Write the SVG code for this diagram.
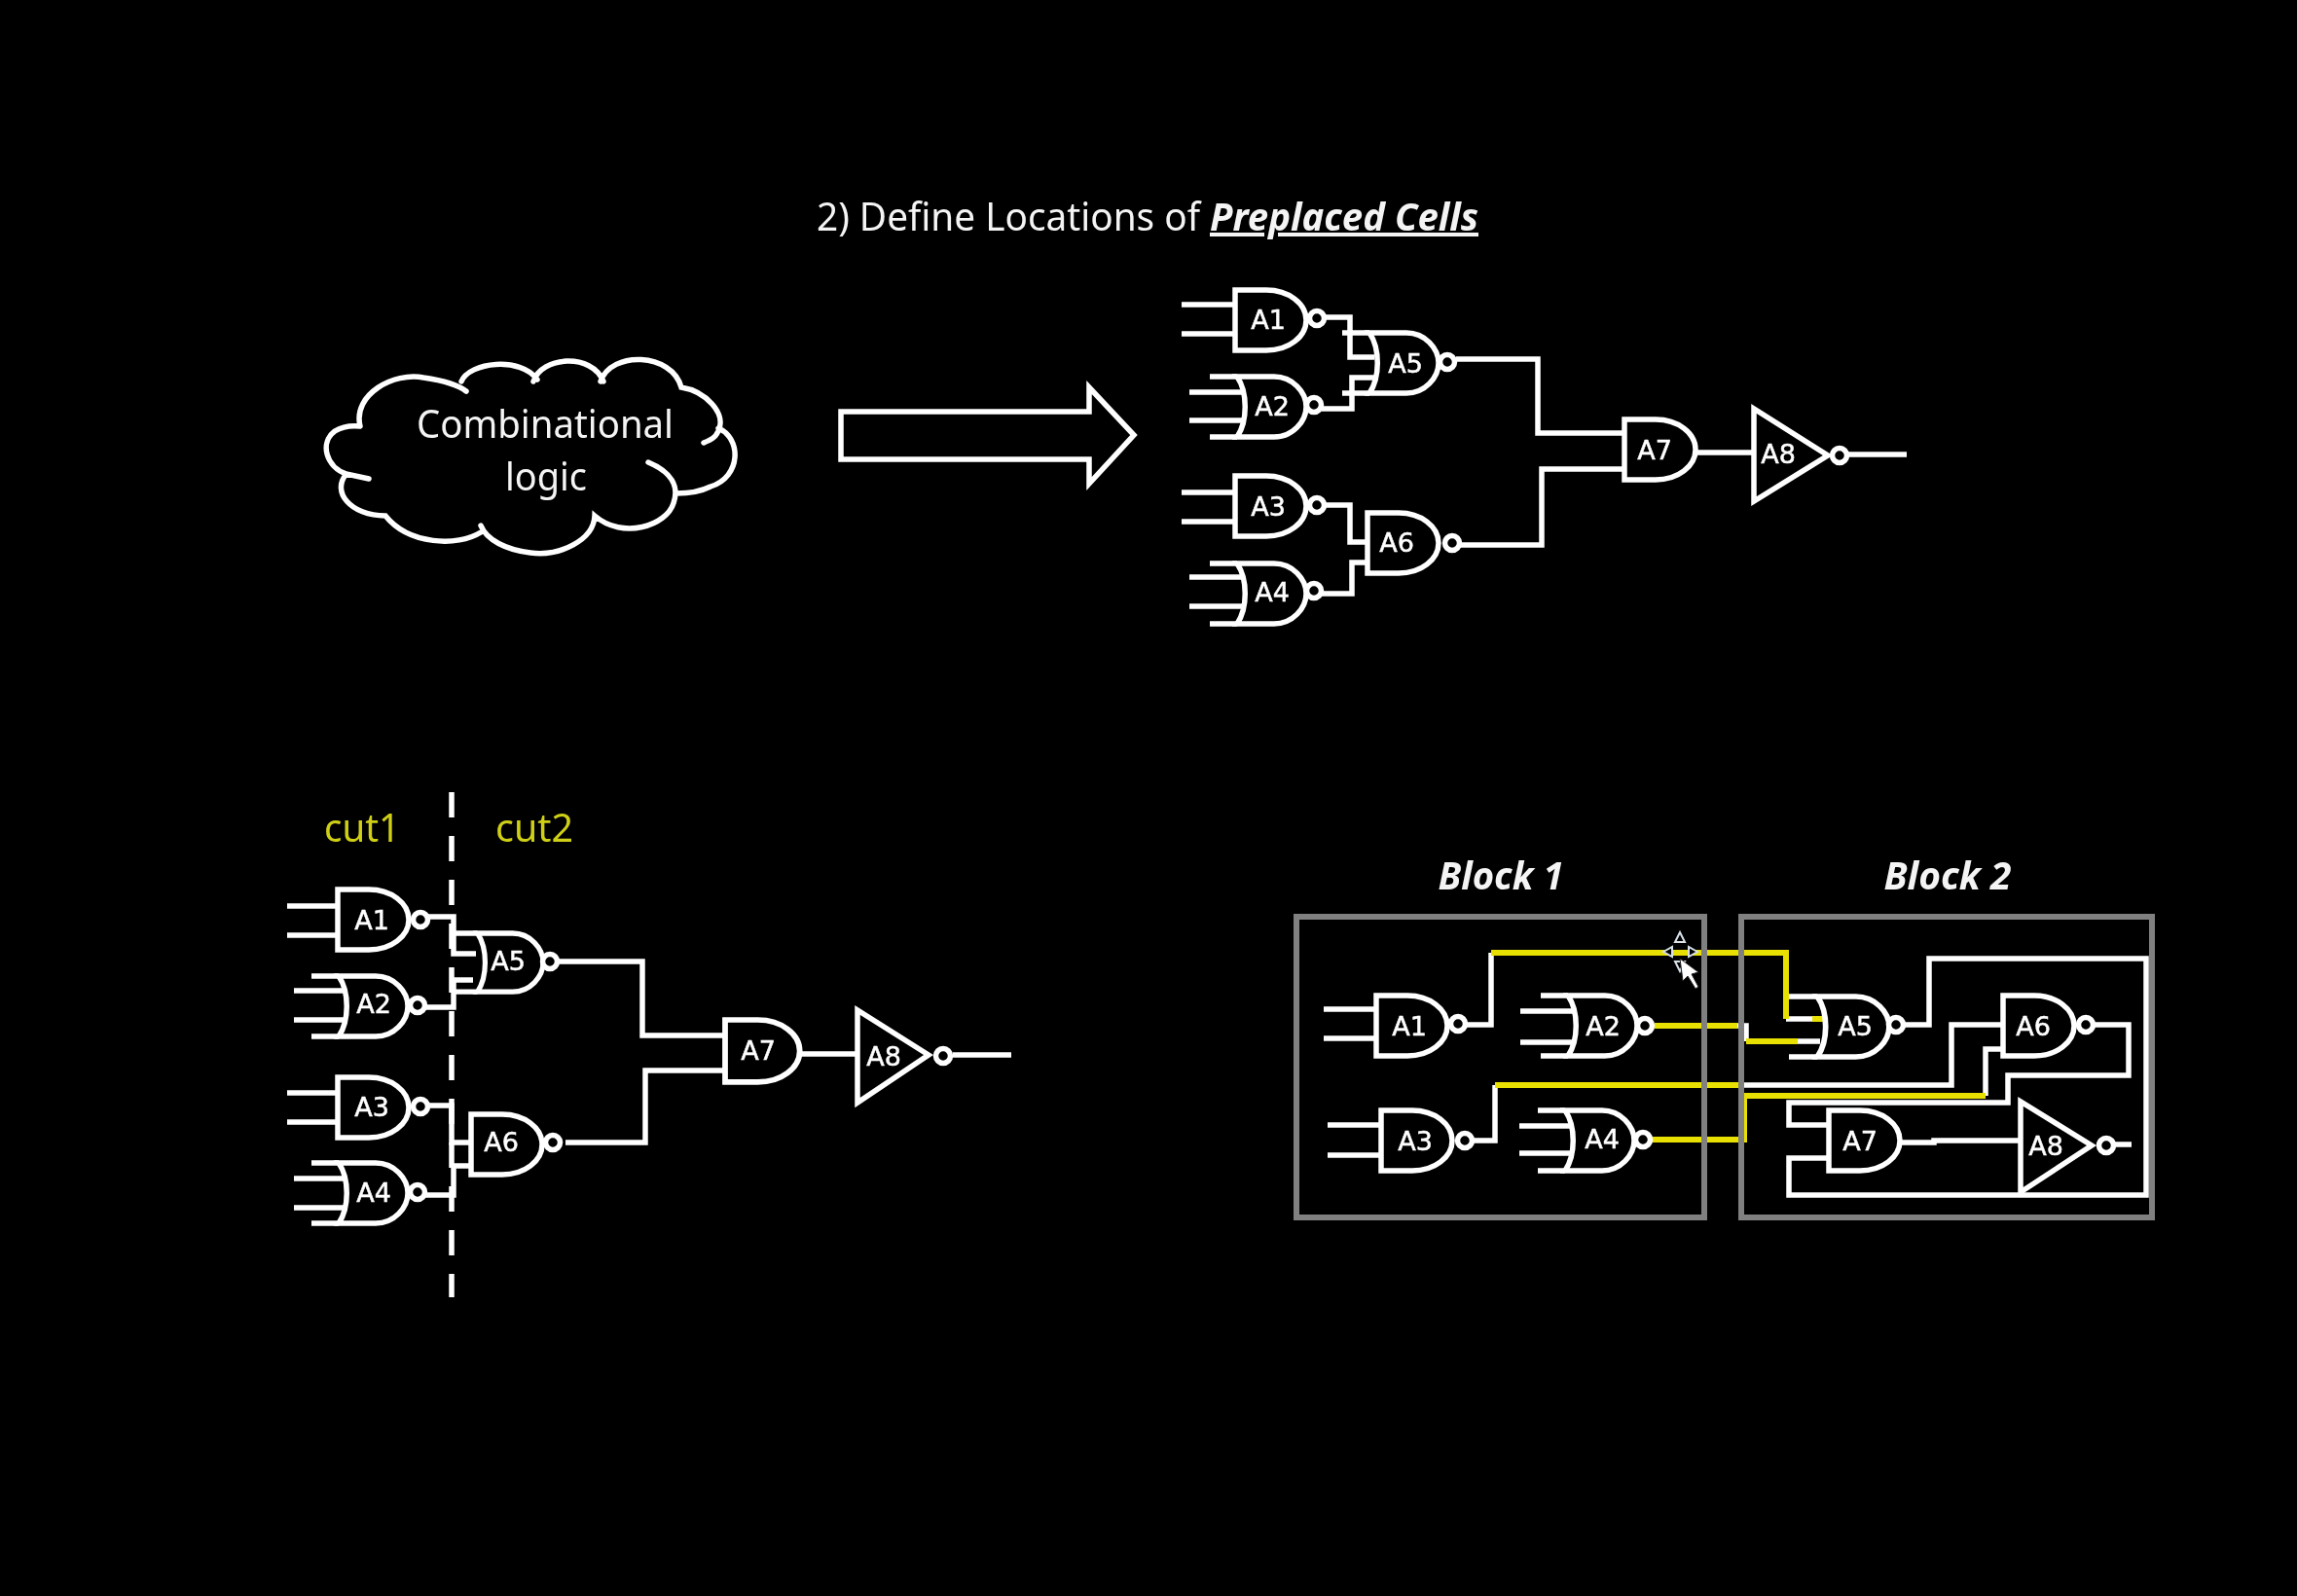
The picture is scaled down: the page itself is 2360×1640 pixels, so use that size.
<svg xmlns="http://www.w3.org/2000/svg" xmlns:xlink="http://www.w3.org/1999/xlink" width="2360" height="1640" viewBox="0 0 2360 1640">
<style>
.w{fill:none;stroke:#fff;stroke-width:5.5;stroke-linejoin:miter}
.y{fill:none;stroke:#e8e000;stroke-width:6}
.b{fill:#000;stroke:#fff;stroke-width:5.5}
.box{fill:none;stroke:#808080;stroke-width:6}
.l{font-family:"DejaVu Sans",sans-serif;font-size:27px;fill:#fff;stroke:#fff;stroke-width:.5;text-anchor:middle}
.t{font-family:"Noto Sans","Open Sans",sans-serif;font-size:40px;fill:#f4f4f4;text-anchor:middle}
.cut{fill:#cfcf18}
.bi{font-weight:700;font-style:italic}
</style>
<defs>
<filter id="soft" filterUnits="userSpaceOnUse" x="0" y="0" width="2360" height="1640"><feGaussianBlur stdDeviation="0.7"/></filter>
<path id="and" class="b" d="M0 0H32C55 0 73 14 73 31C73 48 55 62 32 62H0Z"/>
<g id="nor"><path class="b" d="M28 0H66C85 0 99 16 99 31C99 46 85 62 66 62H28C39 46 39 16 28 0Z"/><path class="w" d="M0 0H28M0 62H28"/></g>
</defs>
<rect width="2360" height="1640" fill="#000"/>
<g filter="url(#soft)">
<g id="title">
<text class="t" x="1036" y="237" textLength="394" lengthAdjust="spacingAndGlyphs">2) Define Locations of</text>
<text class="t bi" x="1381" y="237" textLength="276" lengthAdjust="spacingAndGlyphs" text-decoration="underline">Preplaced Cells</text>
</g>
<g id="cloud">
<path class="w" stroke-linecap="round" d="M370 438C362 405 405 382 435 388C455 391 470 395 479 402M474 392C482 372 535 366 552 390M548 392C556 366 608 362 620 392M617 392C628 360 690 362 700 398C725 402 747 425 738 443C735 450 730 452 723 455M738 440C762 450 762 490 730 500C720 505 708 507 695 507M666 475C690 485 698 500 692 517C685 540 640 555 611 530C610 555 575 572 545 568C520 565 500 555 494 540M494 547C470 562 420 560 396 530C360 530 340 505 356 487L379 492M356 487C335 480 328 455 344 443C352 438 360 437 370 438"/>
<text class="t" x="560" y="450" textLength="264" lengthAdjust="spacingAndGlyphs">Combinational</text>
<text class="t" x="561" y="504" textLength="84" lengthAdjust="spacingAndGlyphs">logic</text>
</g>
<path id="big-arrow" class="w" d="M864 423H1119V398L1165 447L1119 497V472H864Z"/>

<g id="connectors-top">
<path class="w" d="M1360 326H1387V367H1412M1358 420H1389V388H1412M1496 369H1580V445H1669M1499 560H1584V482H1669M1360 519H1387V557H1407M1358 610H1389V578H1407M1742 465H1802"/>
</g>
<g id="top-a1" transform="translate(1269 298)"><use href="#and"/><path class="w" d="M-55 15H0M-55 45H0"/><circle class="b" cx="84" cy="29" r="7.5"/><text class="l" x="34" y="40">A1</text></g>
<g id="top-a2" transform="translate(1243 387)"><use href="#nor"/><path class="w" d="M-21 16H35M-21 45H35"/><circle class="b" cx="107" cy="29" r="7.5"/><text class="l" x="64" y="40">A2</text></g>
<g id="top-a3" transform="translate(1269 489)"><use href="#and"/><path class="w" d="M-55 17H0M-55 47H0"/><circle class="b" cx="84" cy="30" r="7.5"/><text class="l" x="34" y="41">A3</text></g>
<g id="top-a4" transform="translate(1243 579)"><use href="#nor"/><path class="w" d="M-21 14H35M-21 44H35"/><circle class="b" cx="107" cy="28" r="7.5"/><text class="l" x="64" y="39">A4</text></g>
<g id="top-a5" transform="translate(1379 342)"><use href="#nor"/><circle class="b" cx="108" cy="30" r="7.5"/><text class="l" x="65" y="41">A5</text></g>
<g id="top-a6" transform="translate(1405 527)"><use href="#and"/><circle class="b" cx="87" cy="31" r="7.5"/><text class="l" x="30" y="40">A6</text></g>
<g id="top-a7" transform="translate(1669 431)"><use href="#and"/><text class="l" x="31" y="41">A7</text></g>
<g id="top-a8"><path class="b" d="M1802 420V515L1878 468Z"/><circle class="b" cx="1890" cy="468" r="7.5"/><path class="w" d="M1899 467H1959"/><text class="l" x="1827" y="476">A8</text></g>

<g id="cut-line"><path class="w" d="M464 814V1333" stroke-dasharray="26 19"/>
<text class="t cut" x="372" y="865" textLength="78" lengthAdjust="spacingAndGlyphs">cut1</text>
<text class="t cut" x="549" y="865" textLength="80" lengthAdjust="spacingAndGlyphs">cut2</text></g>
<g id="connectors-left">
<path class="w" d="M440 942H466V980H489M437 1035H466V1007H486M573 988H660V1064H745M581 1174H663V1100H745M440 1136H464V1174H484M437 1228H466V1198H484M822 1083H881"/>
</g>
<g id="left-a1" transform="translate(347 914)"><use href="#and"/><path class="w" d="M-52 17H0M-52 47H0"/><circle class="b" cx="85" cy="31" r="7.5"/><text class="l" x="35" y="41">A1</text></g>
<g id="left-a2" transform="translate(320 1003)"><use href="#nor"/><path class="w" d="M-18 15H35M-18 45H35"/><circle class="b" cx="109" cy="30" r="7.5"/><text class="l" x="64" y="38">A2</text></g>
<g id="left-a3" transform="translate(347 1107)"><use href="#and"/><path class="w" d="M-52 16H0M-52 46H0"/><circle class="b" cx="85" cy="30" r="7.5"/><text class="l" x="35" y="40">A3</text></g>
<g id="left-a4" transform="translate(320 1195)"><use href="#nor"/><path class="w" d="M-18 16H35M-18 46H35"/><circle class="b" cx="109" cy="30" r="7.5"/><text class="l" x="64" y="40">A4</text></g>
<g id="left-a5" transform="translate(464 959)"><use href="#nor" transform="scale(.95 .97)"/><circle class="b" cx="101" cy="29" r="7.5"/><text class="l" x="58" y="38">A5</text></g>
<g id="left-a6" transform="translate(484 1145)"><use href="#and"/><circle class="b" cx="84" cy="29" r="7.5"/><text class="l" x="31" y="38">A6</text></g>
<g id="left-a7" transform="translate(745 1048)"><use href="#and" transform="scale(1.05 1.03)"/><text class="l" x="34" y="41">A7</text></g>
<g id="left-a8"><path class="b" d="M881 1038V1133L954 1084Z"/><circle class="b" cx="969" cy="1085" r="7.5"/><path class="w" d="M979 1084H1039"/><text class="l" x="908" y="1095">A8</text></g>

<text class="t bi" x="1542" y="914" textLength="129" lengthAdjust="spacingAndGlyphs">Block 1</text>
<text class="t bi" x="2001" y="914" textLength="131" lengthAdjust="spacingAndGlyphs">Block 2</text>

<g id="connectors-block">
<path class="w" d="M1506 1053H1532V979M1835 1047H1862M1785 1054H1794V1070M1847 1070H1870M1956 1053H1982V985H2205V1228H1838V1190H1879M2151 1053H2187V1105H2063V1133H1838V1156H1879M1513 1172H1536V1115M1791 1115H2005V1053H2058M2040 1126V1078H2058M1953 1174H1987V1172H2076"/>
<path class="y" d="M1532 979H1835V1047M1862 1047H1873M1700 1054H1785M1794 1070H1847M1536 1115H1791M1697 1171H1792V1126H2040"/>
</g>
<rect id="block1" class="box" x="1332" y="942" width="419" height="309"/>
<rect id="block2" class="box" x="1789" y="942" width="422" height="309"/>
<g id="blk-a1" transform="translate(1414 1023)"><use href="#and"/><path class="w" d="M-54 14H0M-54 44H0"/><circle class="b" cx="84" cy="29" r="7.5"/><text class="l" x="34" y="41">A1</text></g>
<g id="blk-a2" transform="translate(1583 1023)"><use href="#nor"/><path class="w" d="M-21 16H35M-21 48H35"/><circle class="b" cx="107" cy="31" r="7.5"/><text class="l" x="64" y="41">A2</text></g>
<g id="blk-a3" transform="translate(1419 1141)"><use href="#and"/><path class="w" d="M-55 15H0M-55 46H0"/><circle class="b" cx="86" cy="31" r="7.5"/><text class="l" x="35" y="41">A3</text></g>
<g id="blk-a4" transform="translate(1580 1141)"><use href="#nor"/><path class="w" d="M-19 16H35M-19 44H35"/><circle class="b" cx="108" cy="30" r="7.5"/><text class="l" x="66" y="39">A4</text></g>
<g id="blk-a5" transform="translate(1838 1024)"><use href="#nor" transform="scale(1.04 1)"/><circle class="b" cx="110" cy="29" r="7.5"/><text class="l" x="68" y="40">A5</text></g>
<g id="blk-a6" transform="translate(2058 1023)"><use href="#and"/><circle class="b" cx="85" cy="30" r="7.5"/><text class="l" x="31" y="41">A6</text></g>
<g id="blk-a7" transform="translate(1879 1141)"><use href="#and"/><text class="l" x="32" y="41">A7</text></g>
<g id="blk-a8"><path class="b" d="M2076 1132V1225L2149 1177Z"/><circle class="b" cx="2164" cy="1177" r="7.5"/><path class="w" d="M2173 1176H2190"/><text class="l" x="2102" y="1187">A8</text></g>
<g id="cursor">
<path fill="#000" stroke="#d8e0e8" stroke-width="2" d="M1726 958L1731 968H1721ZM1709 978L1718 973V983ZM1744 978L1735 973V983ZM1726 998L1721 988H1731Z"/>
<path fill="#fff" stroke="#222" stroke-width="1" d="M1726 985L1729 1008L1734 1003L1742 1016L1745 1014L1738 1001L1745 999Z"/>
</g>
</g>
</svg>
